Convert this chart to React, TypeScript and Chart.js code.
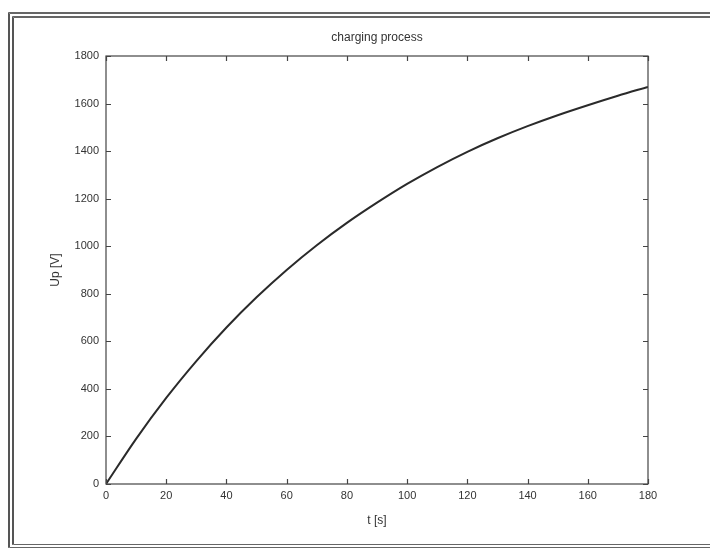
import React, { useEffect, useRef } from "react";
import { Chart, registerables } from "chart.js";

Chart.register(...registerables);

const timeSeconds = [0, 10, 20, 30, 40, 50, 60, 70, 80, 90, 100, 110, 120, 130, 140, 150, 160, 170, 180];
const upVolts = [0, 190, 362, 517, 658, 785, 900, 1004, 1098, 1183, 1262, 1333, 1397, 1454, 1505, 1551, 1593, 1633, 1670];
const chartTitle = "charging process";
const xAxisTitle = "t [s]";
const yAxisTitle = "Up [V]";

const INK = "#333";
const FONT = "'Liberation Sans', Arial, sans-serif";

const boxTicksPlugin = {
  id: "boxTicks",
  afterDraw(chart: any) {
    const { ctx, chartArea, scales } = chart;
    const { left, right, top, bottom } = chartArea;
    ctx.save();
    ctx.strokeStyle = "#444";
    ctx.lineWidth = 1.2;
    ctx.strokeRect(left, top, right - left, bottom - top);
    const len = 5;
    ctx.beginPath();
    scales.x.ticks.forEach((_: any, i: number) => {
      const px = Math.round(scales.x.getPixelForTick(i)) + 0.5;
      ctx.moveTo(px, bottom);
      ctx.lineTo(px, bottom - len);
      ctx.moveTo(px, top);
      ctx.lineTo(px, top + len);
    });
    scales.y.ticks.forEach((_: any, i: number) => {
      const py = Math.round(scales.y.getPixelForTick(i)) + 0.5;
      ctx.moveTo(left, py);
      ctx.lineTo(left + len, py);
      ctx.moveTo(right, py);
      ctx.lineTo(right - len, py);
    });
    ctx.stroke();
    ctx.restore();
  },
};

export default function App() {
  const canvasRef = useRef<HTMLCanvasElement | null>(null);

  useEffect(() => {
    if (!canvasRef.current) return;
    const chart = new Chart(canvasRef.current, {
      type: "line",
      data: {
        datasets: [
          {
            data: timeSeconds.map((t, i) => ({ x: t, y: upVolts[i] })),
            borderColor: "#2a2a2a",
            borderWidth: 2,
            pointRadius: 0,
            cubicInterpolationMode: "monotone",
            fill: false,
          },
        ],
      },
      options: {
        responsive: false,
        animation: false,
        layout: { padding: { left: 0, right: 62, top: 0, bottom: 0 } },
        plugins: {
          legend: { display: false },
          tooltip: { enabled: false },
          title: {
            display: true,
            text: chartTitle,
            fullSize: false,
            color: INK,
            font: { family: FONT, size: 12, weight: "normal" },
            padding: { top: 30, bottom: 11.6 },
          },
        },
        scales: {
          x: {
            type: "linear",
            min: 0,
            max: 180,
            grid: { display: false, drawTicks: false },
            border: { display: false },
            ticks: {
              stepSize: 20,
              padding: 5,
              maxRotation: 0,
              color: INK,
              font: { family: FONT, size: 11 },
              callback: (v: any) => String(v),
            },
            title: {
              display: true,
              text: xAxisTitle,
              color: INK,
              font: { family: FONT, size: 12 },
              padding: { top: 0, bottom: 20 },
            },
            afterFit(scale: any) {
              scale.height = 64;
            },
          },
          y: {
            type: "linear",
            min: 0,
            max: 1800,
            grid: { display: false, drawTicks: false },
            border: { display: false },
            ticks: {
              stepSize: 200,
              padding: 7,
              color: INK,
              font: { family: FONT, size: 11 },
              callback: (v: any) => String(v),
            },
            title: {
              display: true,
              text: yAxisTitle,
              color: INK,
              font: { family: FONT, size: 12 },
              padding: { top: 48, bottom: 0 },
            },
            afterFit(scale: any) {
              scale.width = 106;
            },
          },
        },
      },
      plugins: [boxTicksPlugin],
    });
    return () => chart.destroy();
  }, []);

  return (
    <div style={{ position: "absolute", left: 0, top: 0, width: 710, height: 548, overflow: "hidden", background: "#fff" }}>
      <div
        style={{
          position: "absolute",
          left: 8,
          top: 12,
          width: 760,
          height: 526,
          borderTop: "6px double #666",
          borderLeft: "6px double #555",
          borderBottom: "4px double #666",
        }}
      />
      <canvas ref={canvasRef} width={710} height={548} style={{ position: "absolute", left: 0, top: 0, display: "block" }} />
    </div>
  );
}
